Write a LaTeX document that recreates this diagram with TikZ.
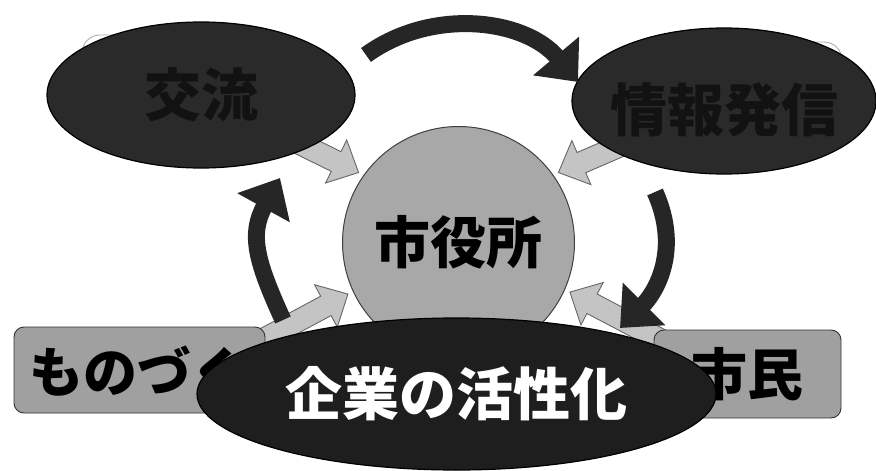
\documentclass[tikz,border=0pt]{standalone}
\usepackage{fontspec}
\newfontfamily\jp{Noto Sans CJK JP}
\usetikzlibrary{shapes.geometric,arrows.meta,calc}
\pgfdeclarelayer{bg}
\pgfsetlayers{bg,main}
\definecolor{ovaldark}{HTML}{2A2A2A}
\definecolor{ovaltext}{HTML}{121212}
\definecolor{bigoval}{HTML}{1E1E1E}
\definecolor{hubgray}{HTML}{A8A8A8}
\definecolor{taggray}{HTML}{A0A0A0}
\definecolor{arrowdark}{HTML}{262626}
\definecolor{lightarr}{HTML}{C4C4C4}
\newcommand\blockarr[2]{%
  \coordinate (hb) at ($(#2)!25pt!(#1)$);
  \path[blockarrow] (#2) -- ($(hb)!24pt!90:(#2)$) -- ($(hb)!11pt!90:(#2)$)
    -- ($(#1)!11pt!90:(hb)$) -- ($(#1)!11pt!-90:(hb)$)
    -- ($(hb)!11pt!-90:(#2)$) -- ($(hb)!24pt!-90:(#2)$) -- cycle;
}
\begin{document}
\begin{tikzpicture}[x=1pt,y=-1pt,
  ghost/.style={rectangle, draw=black!35, fill=white, rounded corners=18pt, line width=0.8pt},
  oval/.style={ellipse, draw=black, line width=1.2pt, fill=ovaldark, text=ovaltext,
    font=\jp\bfseries\fontsize{57}{60}\selectfont, inner sep=0pt},
  hub/.style={circle, draw=black!75, fill=hubgray, line width=1pt, inner sep=0pt,
    minimum size=232pt, outer sep=6pt, font=\jp\bfseries\fontsize{56}{60}\selectfont},
  tag/.style={rectangle, rounded corners=10pt, draw=black!80, fill=taggray, line width=0.9pt,
    inner sep=0pt, font=\jp\bfseries\fontsize{56}{60}\selectfont},
  cyclearrow/.style={line width=17pt, draw=arrowdark, -{Triangle[length=34pt,width=58pt]}},
  blockarrow/.style={fill=lightarr, draw=black!60, line width=0.9pt, line join=miter}]
\useasboundingbox (0,0) rectangle (876,471);

% central hub and outer nodes
\node[hub] (shi) at (458.5,242.5) {市役所};
\node[oval, minimum width=308pt, minimum height=146pt] (koryu) at (201,95) {交流};
\node[oval, minimum width=304pt, minimum height=146pt] (joho) at (724,101) {};
\node[font=\jp\bfseries\fontsize{57}{60}\selectfont, text=ovaltext, inner sep=0pt]
  (johotext) at ([yshift=-9pt]joho.center) {情報発信};
\node[tag, minimum width=251pt, minimum height=86pt] (mono) at (139.5,370) {};
\node[font=\jp\bfseries\fontsize{54}{58}\selectfont, anchor=west, inner sep=0pt]
  (monotext) at ([xshift=16pt,yshift=-2pt]mono.west) {ものづくり};
\node[tag, minimum width=187pt, minimum height=88pt] (shimin) at (747.5,374) {市民};

% ghost boxes and light arrows behind
\begin{pgfonlayer}{bg}
  \node[ghost, minimum width=168pt, minimum height=105pt] (ghostA) at (166,87.5) {};
  \node[ghost, minimum width=162pt, minimum height=98pt] (ghostB) at (761,91) {};
  \coordinate (monotail) at (240,352);
  \coordinate (shimintail) at (680,350);
  \blockarr{koryu.center}{shi.145}
  \blockarr{joho.center}{shi.35}
  \blockarr{monotail}{shi.205}
  \blockarr{shimintail}{shi.336}
\end{pgfonlayer}

% dark cycle arrows
\coordinate (ta) at (366,55);  \coordinate (ha) at (578,82);
\coordinate (tb) at (655,192); \coordinate (hbb) at (620,328);
\coordinate (tc) at (283,320); \coordinate (hc) at (280,178);
\draw[cyclearrow] (ta) .. controls (432,7) and (525,19) .. (ha);
\draw[cyclearrow] (tb) .. controls (681,250) and (656,292) .. (hbb);
\draw[cyclearrow] (tc) .. controls (256,261) and (249,234) .. (hc);

% front oval
\node[ellipse, draw=black, line width=1.2pt, fill=bigoval, text=white, inner sep=0pt,
  minimum width=519pt, minimum height=152pt, font=\jp\bfseries\fontsize{57}{60}\selectfont]
  (kigyo) at (456.5,394) {企業の活性化};
\end{tikzpicture}
\end{document}
